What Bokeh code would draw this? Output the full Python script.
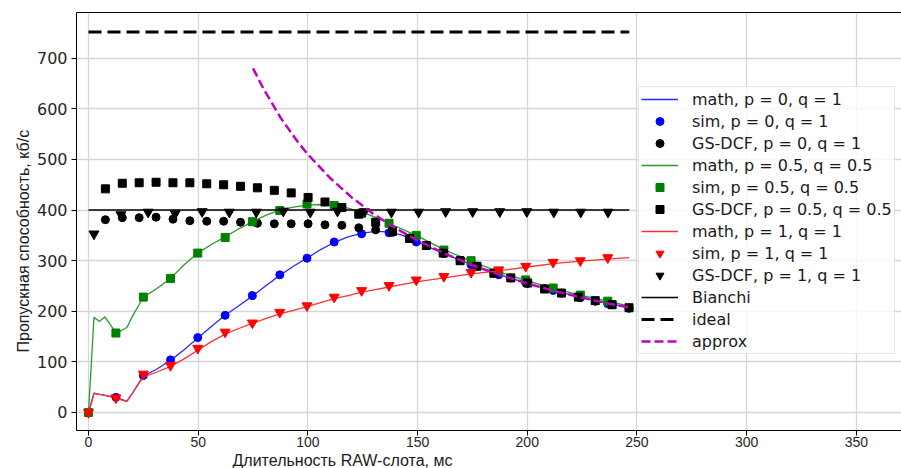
from bokeh.plotting import figure
from bokeh.models import Range1d, FixedTicker, LinearAxis, Title
from bokeh.embed import file_html
from bokeh.resources import INLINE

# ---------------- data ----------------
x_ticks = [0, 50, 100, 150, 200, 250, 300, 350]
y_ticks = [0, 100, 200, 300, 400, 500, 600, 700]

math_x = [0, 2.5, 5, 7.5, 10, 12.5, 15, 17.5, 20, 22.5, 25, 31.2, 37.4, 43.6, 49.8,
          56, 62.3, 68.5, 74.7, 81, 87.2, 93.4, 99.6, 105.8, 112, 118.3, 124.5,
          130.7, 137, 143.2, 149.4, 162, 174.4, 187, 199.3, 211.8, 224.2, 236.7, 246.5]
math_p0 = [0, 38, 36, 34, 32, 30, 26, 22, 38, 55, 72, 86, 103, 124, 147,
           170, 192, 211, 230, 251, 271, 289, 305, 322, 336, 347, 354,
           358, 357, 350, 338, 314, 292, 273, 256, 241, 228, 216, 207]
math_p05 = [0, 188, 180, 189, 173, 158, 162, 168, 190, 209, 228, 245, 265, 292, 315,
            332, 347, 363, 377, 390, 400, 406, 410, 411, 409, 404, 396,
            386, 374, 362, 350, 322, 299, 278, 261, 246, 232, 220, 210]
math_p1 = [0, 38, 36, 34, 31, 28, 25, 22, 38, 55, 70, 80, 91, 106, 123,
           140, 155, 166, 176, 186, 195, 202, 209, 217, 225, 231, 238,
           243, 248, 253, 258, 266, 274, 280, 287, 294, 299, 303, 306]

sim_x = [0, 12.5, 25, 37.4, 49.8, 62.3, 74.7, 87.2, 99.6, 112, 124.5, 137,
         149.4, 162, 174.4, 187, 199.3, 211.8, 224.2, 236.7]
sim_p0 = [0, 30, 73, 104, 148, 192, 231, 272, 305, 337, 353, 355,
          337, 314, 292, 272, 256, 241, 227, 215]
sim_p05 = [0, 157, 228, 265, 315, 346, 377, 399, 412, 409, 394, 374,
           350, 321, 300, 278, 262, 246, 232, 220]
sim_p1 = [0, 29, 76, 93, 127, 159, 177, 198, 211, 228, 241, 251,
          262, 269, 277, 282, 289, 297, 300, 306]

gs_x = [7.7, 15.4, 23.1, 30.8, 38.5, 46.2, 53.9, 61.6, 69.3, 77, 84.7, 92.4, 100.1,
        107.8, 115.5, 123.2, 130.9, 138.6, 146.3, 154, 161.7, 169.4, 177.1, 184.8,
        192.5, 200.2, 207.9, 215.6, 223.3, 231, 238.7, 246.4]
gs_p0 = [381, 385, 385, 386, 382, 379, 378, 378, 376, 374, 373, 373, 373,
         371, 370, 365, 361, 356, 345, 331, 316, 301, 289, 276,
         266, 255, 245, 236, 228, 220, 213, 206]
gs_p05 = [442, 453, 454, 455, 454, 454, 452, 450, 447, 444, 439, 434, 425,
          416, 405, 392, 376, 358, 344, 330, 315, 300, 289, 275,
          266, 256, 244, 236, 228, 221, 213, 207]

gs1_x = [2.5, 14.8, 27.2, 39.5, 51.8, 64.2, 76.5, 88.8, 101.1, 113.5, 125.8, 138.1,
         150.5, 162.8, 175.1, 187.5, 199.8, 212.1, 224.4, 236.8]
gs_p1 = [353, 391, 396, 393, 397, 396, 396, 398, 396, 398, 397, 396,
         396, 397, 397, 397, 397, 396, 396, 396]

bianchi_x = [0, 246.5]
bianchi_y = [400, 400]
ideal_x = [0, 246.5]
ideal_y = [752, 752]

approx_x = [75, 80, 87.5, 95, 100, 110, 120, 130, 140, 150, 162.5, 175, 187.5,
            200, 212.5, 225, 237.5, 247]
approx_y = [680, 638, 583, 537, 510, 464, 425, 392, 364, 340, 314, 291, 272,
            255, 240, 227, 215, 207]

x_title = "Длительность RAW-слота, мс"
y_title = "Пропускная способность, кб/с"

# ---------------- figure ----------------
p = figure(width=901, height=468,
           x_range=Range1d(-5.47, 370.6), y_range=Range1d(-35.6, 790.5),
           output_backend="svg", toolbar_location=None,
           min_border_left=76, min_border_right=0, min_border_top=12, min_border_bottom=38)
p.outline_line_color = None
p.background_fill_color = "white"

xa = p.below[0]
xa.ticker = FixedTicker(ticks=x_ticks)
xa.minor_tick_line_color = None
xa.major_tick_out = 5
xa.major_tick_in = 0
xa.major_label_standoff = 1
xa.major_label_text_font = "Liberation Sans"
xa.major_label_text_font_size = "14px"
xa.major_label_text_color = "#262626"
xa.axis_line_color = "black"
xa.major_tick_line_color = "black"

ya = p.left[0]
ya.ticker = FixedTicker(ticks=y_ticks)
ya.minor_tick_line_color = None
ya.major_tick_out = 5
ya.major_tick_in = 0
ya.major_label_standoff = 4
ya.major_label_text_font = "DejaVu Sans"
ya.major_label_text_font_size = "16px"
ya.major_label_text_color = "#262626"
ya.axis_line_color = "black"
ya.major_tick_line_color = "black"

top = LinearAxis(ticker=FixedTicker(ticks=[]), major_tick_line_color=None,
                 minor_tick_line_color=None, major_label_standoff=0,
                 axis_line_color="black")
p.add_layout(top, "above")

# axis titles, placed where the reference shows them
p.add_layout(Title(text=x_title, align="left", offset=156, standoff=0,
                   text_font="Liberation Sans", text_font_size="16px",
                   text_font_style="normal", text_color="#1a1a1a"), "below")
p.add_layout(Title(text=y_title, align="left", offset=78, standoff=4,
                   text_font="Liberation Sans", text_font_size="16px",
                   text_font_style="normal", text_color="#1a1a1a"), "left")

p.xgrid.ticker = FixedTicker(ticks=x_ticks)
p.ygrid.ticker = FixedTicker(ticks=y_ticks)
for g in (p.xgrid, p.ygrid):
    g.grid_line_color = "#d6d6d6"
    g.grid_line_width = 1.3

# ---------------- series ----------------
p.line(math_x, math_p0, line_color="#2b2bff", line_width=1.3, legend_label="math, p = 0, q = 1")
p.scatter(sim_x, sim_p0, marker="circle", size=8, color="#0000ff", legend_label="sim, p = 0, q = 1")
p.scatter(gs_x, gs_p0, marker="circle", size=8, color="black", legend_label="GS-DCF, p = 0, q = 1")

p.line(math_x, math_p05, line_color="#2e9a2e", line_width=1.3, legend_label="math, p = 0.5, q = 0.5")
p.scatter(sim_x, sim_p05, marker="square", size=8, color="#008000", legend_label="sim, p = 0.5, q = 0.5")
p.scatter(gs_x, gs_p05, marker="square", size=8, color="black", legend_label="GS-DCF, p = 0.5, q = 0.5")

p.line(math_x, math_p1, line_color="#ff3030", line_width=1.3, legend_label="math, p = 1, q = 1")
p.scatter(sim_x, sim_p1, marker="inverted_triangle", size=10, color="#ff0000", legend_label="sim, p = 1, q = 1")
p.scatter(gs1_x, gs_p1, marker="inverted_triangle", size=10, color="black", legend_label="GS-DCF, p = 1, q = 1")

p.line(bianchi_x, bianchi_y, line_color="black", line_width=1.5, legend_label="Bianchi")
p.line(ideal_x, ideal_y, line_color="black", line_width=3, line_dash="13 6", legend_label="ideal")
p.line(approx_x, approx_y, line_color="#bf00bf", line_width=2.5, line_dash="9 4", legend_label="approx")

lg = p.legend[0]
lg.location = (562, 76)
lg.label_text_font = "DejaVu Sans"
lg.label_text_font_size = "16px"
lg.label_text_color = "#1a1a1a"
lg.label_height = 20
lg.glyph_height = 20
lg.glyph_width = 37
lg.label_standoff = 14
lg.spacing = 2
lg.padding = 2
lg.margin = 0
lg.border_line_color = "#cccccc"
lg.border_line_width = 1
lg.background_fill_color = "white"
lg.background_fill_alpha = 0.8

open("out.html", "w").write(file_html(p, INLINE))
